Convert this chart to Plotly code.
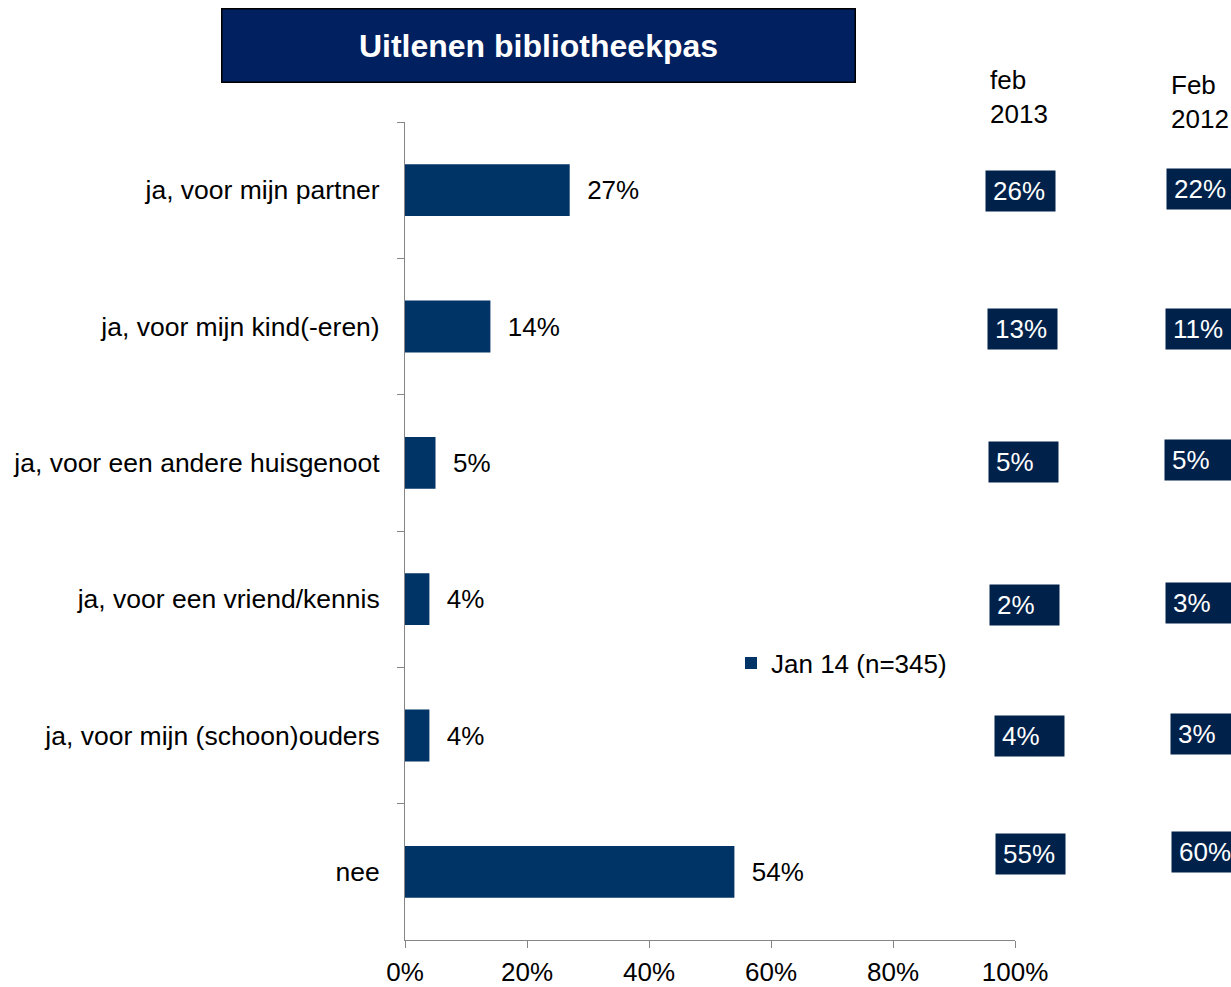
import plotly.graph_objects as go

categories = [
    "ja, voor mijn partner",
    "ja, voor mijn kind(-eren)",
    "ja, voor een andere huisgenoot",
    "ja, voor een vriend/kennis",
    "ja, voor mijn (schoon)ouders",
    "nee",
]
jan14 = [27, 14, 5, 4, 4, 54]
feb2013 = [26, 13, 5, 2, 4, 55]
feb2012 = [22, 11, 5, 3, 3, 60]
series_name = "Jan 14 (n=345)"
title_text = "Uitlenen bibliotheekpas"
col_2013 = "feb<br>2013"
col_2012 = "Feb<br>2012"
x_ticks = [0, 20, 40, 60, 80, 100]

FONT = "Liberation Sans, Arial, sans-serif"
BAR = "#003366"
BOX = "#00214a"
AX = "#868686"

W, H = 1231, 987
L, R, T, B = 405, 216, 122, 47
pw = W - L - R
ph = H - T - B

def px_x(p):
    return (p - L) / pw

def px_y(p):
    return (H - B - p) / ph

fig = go.Figure()
fig.add_trace(go.Bar(
    y=categories, x=jan14, orientation="h",
    name=series_name,
    marker=dict(color=BAR, line=dict(width=0)),
    width=0.38,
    text=["  %d%%" % v for v in jan14],
    textposition="outside",
    textfont=dict(family=FONT, size=26, color="black"),
    cliponaxis=False,
    showlegend=True,
))

annotations = []
# title box
annotations.append(dict(
    xref="paper", yref="paper", x=px_x(538), y=px_y(46),
    xanchor="center", yanchor="middle",
    text="<b>%s</b>" % title_text, showarrow=False,
    font=dict(family=FONT, size=32, color="white"),
    bgcolor="#002060", bordercolor="black", borderwidth=1.5,
    width=630, height=70, borderpad=1,
))
# column headers
annotations.append(dict(
    xref="paper", yref="paper", x=px_x(988), y=px_y(97),
    xanchor="left", yanchor="middle", align="left",
    text=col_2013, showarrow=False,
    font=dict(family=FONT, size=26, color="black"),
))
annotations.append(dict(
    xref="paper", yref="paper", x=px_x(1169), y=px_y(102),
    xanchor="left", yanchor="middle", align="left",
    text=col_2012, showarrow=False,
    font=dict(family=FONT, size=26, color="black"),
))

left13 = [985, 987, 988, 989, 994, 995]
shift13 = [-1, -2, 1, -6, 0, 18]
left12 = [1166, 1165, 1164, 1165, 1170, 1171]
shift12 = [1, -2, 3, -4, 2, 20]
for i, c in enumerate(categories):
    annotations.append(dict(
        xref="paper", yref="y", x=px_x(left13[i]), y=c,
        xanchor="left", yanchor="middle", align="left",
        yshift=shift13[i],
        text="%d%%" % feb2013[i], showarrow=False,
        font=dict(family=FONT, size=26, color="white"),
        bgcolor=BOX, width=55, height=26, borderpad=7,
    ))
    annotations.append(dict(
        xref="paper", yref="y", x=px_x(left12[i]), y=c,
        xanchor="left", yanchor="middle", align="left",
        yshift=shift12[i],
        text="%d%%" % feb2012[i], showarrow=False,
        font=dict(family=FONT, size=26, color="white"),
        bgcolor=BOX, width=55, height=26, borderpad=7,
    ))

fig.update_layout(
    width=W, height=H,
    margin=dict(l=L, r=R, t=T, b=B, pad=0, autoexpand=False),
    paper_bgcolor="white", plot_bgcolor="white",
    font=dict(family=FONT, size=26, color="black"),
    showlegend=True,
    legend=dict(
        x=px_x(731), y=px_y(663), xanchor="left", yanchor="middle",
        bgcolor="rgba(0,0,0,0)", font=dict(family=FONT, size=26, color="black"),
        borderwidth=0,
    ),
    annotations=annotations,
    xaxis=dict(
        range=[0, 100], tickvals=x_ticks,
        ticktext=["%d%%" % v for v in x_ticks],
        showgrid=False, zeroline=False, automargin=False,
        showline=True, linecolor=AX, linewidth=1,
        ticks="outside", ticklen=7, tickcolor=AX, tickwidth=1,
        ticklabelstandoff=2,
        tickfont=dict(family=FONT, size=26, color="black"),
    ),
    yaxis=dict(
        categoryorder="array", categoryarray=categories,
        autorange="reversed",
        showgrid=False, zeroline=False, automargin=False,
        showline=True, linecolor=AX, linewidth=1,
        ticks="outside", ticklen=7, tickcolor=AX, tickwidth=1,
        tickson="boundaries",
        ticklabelstandoff=19,
        tickfont=dict(family=FONT, size=26.5, color="black"),
    ),
)

fig.write_html(
    "out.html",
    config={"displayModeBar": False},
    post_script="document.body.style.margin='0';document.body.style.overflow='hidden';",
)
